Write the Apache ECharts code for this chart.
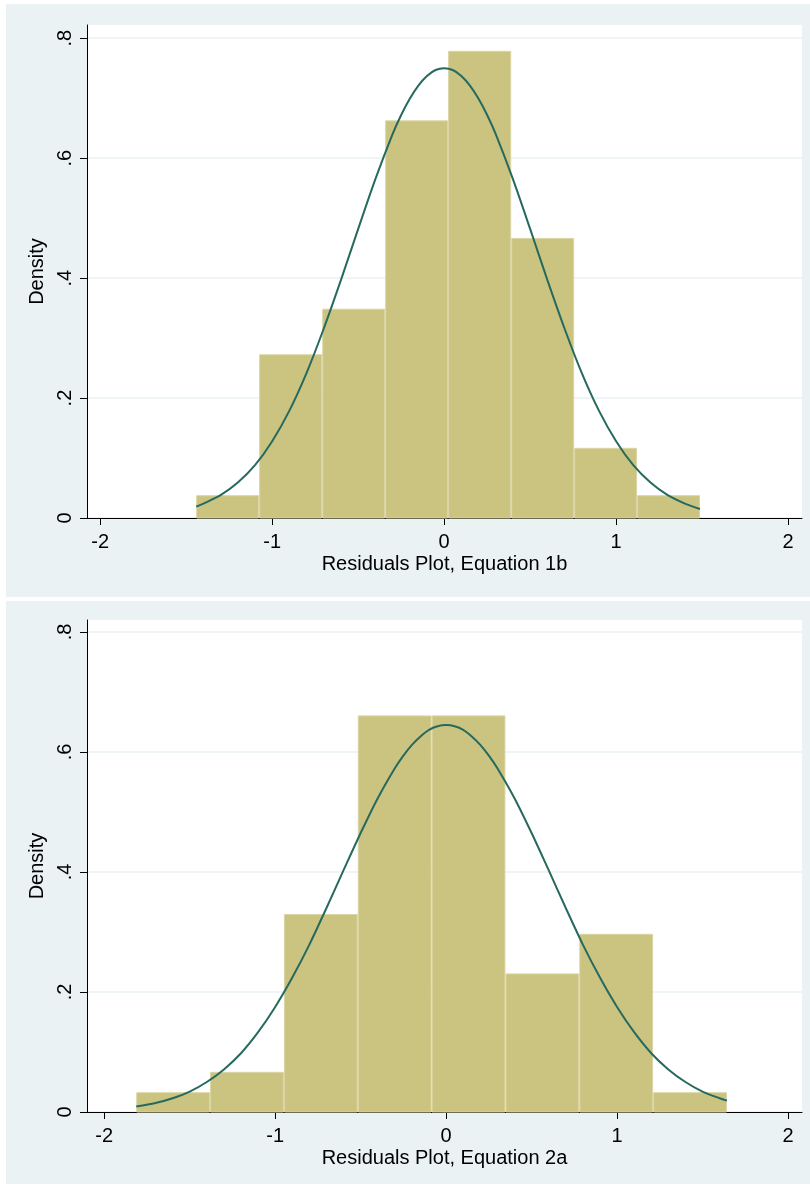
<!DOCTYPE html>
<html>
<head>
<meta charset="utf-8">
<script src="https://cdn.jsdelivr.net/npm/echarts@6/dist/echarts.min.js"></script>
<style>
html,body{margin:0;padding:0;background:#fff;}
#chart{width:810px;height:1188px;}
</style>
</head>
<body>
<div id="chart"></div>
<script>
// ---- Data ----
const binEdges1 = [-1.442, -1.076, -0.709, -0.343, 0.023, 0.390, 0.756, 1.122, 1.488];
const density1  = [0.038, 0.273, 0.349, 0.663, 0.779, 0.467, 0.117, 0.038];
const curveX1 = [-1.442,-1.4,-1.3,-1.2,-1.1,-1.0,-0.9,-0.8,-0.7,-0.6,-0.5,-0.4,-0.3,-0.25,-0.2,-0.15,-0.1,-0.05,0,0.05,0.1,0.15,0.2,0.25,0.3,0.4,0.5,0.6,0.7,0.8,0.9,1.0,1.1,1.2,1.3,1.4,1.488];
const curveY1 = [0.019,0.024,0.038,0.059,0.088,0.128,0.179,0.242,0.316,0.397,0.482,0.565,0.640,0.672,0.699,0.721,0.737,0.747,0.750,0.747,0.737,0.721,0.699,0.672,0.640,0.565,0.482,0.397,0.316,0.242,0.179,0.128,0.088,0.059,0.038,0.024,0.015];

const binEdges2 = [-1.813, -1.381, -0.949, -0.517, -0.085, 0.347, 0.779, 1.211, 1.643];
const density2  = [0.033, 0.067, 0.330, 0.661, 0.661, 0.231, 0.297, 0.033];
const curveX2 = [-1.813,-1.7,-1.6,-1.5,-1.4,-1.3,-1.2,-1.1,-1.0,-0.9,-0.8,-0.7,-0.6,-0.5,-0.4,-0.3,-0.25,-0.2,-0.15,-0.1,-0.05,0,0.05,0.1,0.15,0.2,0.25,0.3,0.4,0.5,0.6,0.7,0.8,0.9,1.0,1.1,1.2,1.3,1.4,1.5,1.6,1.643];
const curveY2 = [0.009,0.015,0.023,0.034,0.050,0.071,0.098,0.133,0.175,0.224,0.279,0.340,0.403,0.465,0.523,0.573,0.594,0.612,0.626,0.637,0.643,0.645,0.643,0.637,0.626,0.612,0.594,0.573,0.523,0.465,0.403,0.340,0.279,0.224,0.175,0.133,0.098,0.071,0.050,0.034,0.023,0.019];

const xTicks = [-2, -1, 0, 1, 2];
const xTickLabels = ['-2', '-1', '0', '1', '2'];
const yTicks = [0, 0.2, 0.4, 0.6, 0.8];
const yTickLabels = ['0', '.2', '.4', '.6', '.8'];
const xTitles = ['Residuals Plot, Equation 1b', 'Residuals Plot, Equation 2a'];
const yTitle = 'Density';

// ---- Styling ----
const FONT = '"Liberation Sans", Arial, Helvetica, sans-serif';
const BG = '#EAF2F3';
const BAR_FILL = '#CBC480';
const BAR_EDGE = '#DAD5A4';
const LINE = '#26695F';

function barsData(edges, dens) {
  return dens.map((d, i) => [edges[i], edges[i + 1], d]);
}
function pairs(xs, ys) { return xs.map((x, i) => [x, ys[i]]); }

function xAxisCfg(gi, min, max, title) {
  return {
    type: 'value', gridIndex: gi, min: min, max: max,
    name: title, nameLocation: 'middle', nameGap: 36,
    nameTextStyle: { fontFamily: FONT, fontSize: 20, color: '#000' },
    axisLine: { show: true, onZero: false, lineStyle: { color: '#000', width: 1 } },
    axisTick: { show: true, length: 7, customValues: xTicks, lineStyle: { color: '#000', width: 1 } },
    axisLabel: {
      show: true, customValues: xTicks, margin: 14,
      fontFamily: FONT, fontSize: 20, color: '#000',
      formatter: v => { const i = xTicks.indexOf(v); return i >= 0 ? xTickLabels[i] : ''; }
    },
    splitLine: { show: false }
  };
}
function yAxisCfg(gi, max) {
  return {
    type: 'value', gridIndex: gi, min: 0, max: max,
    name: yTitle, nameLocation: 'middle', nameGap: 36, nameRotate: 90,
    nameTextStyle: { fontFamily: FONT, fontSize: 20, color: '#000' },
    axisLine: { show: true, onZero: false, lineStyle: { color: '#000', width: 1 } },
    axisTick: { show: true, length: 7, customValues: yTicks, lineStyle: { color: '#000', width: 1 } },
    axisLabel: {
      show: true, customValues: yTicks, rotate: 90, margin: 12,
      fontFamily: FONT, fontSize: 20, color: '#000',
      formatter: v => { const i = yTicks.findIndex(t => Math.abs(t - v) < 1e-9); return i >= 0 ? yTickLabels[i] : ''; }
    },
    splitLine: { show: true, lineStyle: { color: BG, width: 1.5 } }
  };
}

function renderBar(params, api) {
  const p0 = api.coord([api.value(0), api.value(2)]);
  const p1 = api.coord([api.value(1), 0]);
  return {
    type: 'rect',
    shape: { x: p0[0] + 0.5, y: p0[1] + 0.5, width: p1[0] - p0[0] - 1, height: p1[1] - p0[1] - 0.5 },
    style: { fill: BAR_FILL, stroke: BAR_EDGE, lineWidth: 1 }
  };
}

const chart = echarts.init(document.getElementById('chart'), null, { renderer: 'canvas' });
chart.setOption({
  backgroundColor: '#fff',
  animation: false,
  graphic: [
    { type: 'rect', z: -10, silent: true, shape: { x: 6, y: 4, width: 804, height: 593 }, style: { fill: BG } },
    { type: 'rect', z: -10, silent: true, shape: { x: 6, y: 601, width: 804, height: 583 }, style: { fill: BG } }
  ],
  grid: [
    { left: 87, right: 8, top: 25, height: 493, show: true, backgroundColor: '#fff', borderWidth: 0 },
    { left: 87, right: 8, top: 620, height: 492, show: true, backgroundColor: '#fff', borderWidth: 0 }
  ],
  xAxis: [
    xAxisCfg(0, -2.077, 2.081, xTitles[0]),
    xAxisCfg(1, -2.101, 2.082, xTitles[1])
  ],
  yAxis: [
    yAxisCfg(0, 0.822),
    yAxisCfg(1, 0.82)
  ],
  series: [
    { type: 'custom', xAxisIndex: 0, yAxisIndex: 0, renderItem: renderBar,
      encode: { x: [0, 1], y: 2 }, data: barsData(binEdges1, density1), z: 2 },
    { type: 'line', xAxisIndex: 0, yAxisIndex: 0, data: pairs(curveX1, curveY1),
      showSymbol: false, smooth: 0.3, lineStyle: { color: LINE, width: 2 }, z: 3 },
    { type: 'custom', xAxisIndex: 1, yAxisIndex: 1, renderItem: renderBar,
      encode: { x: [0, 1], y: 2 }, data: barsData(binEdges2, density2), z: 2 },
    { type: 'line', xAxisIndex: 1, yAxisIndex: 1, data: pairs(curveX2, curveY2),
      showSymbol: false, smooth: 0.3, lineStyle: { color: LINE, width: 2 }, z: 3 }
  ]
});
</script>
</body>
</html>
